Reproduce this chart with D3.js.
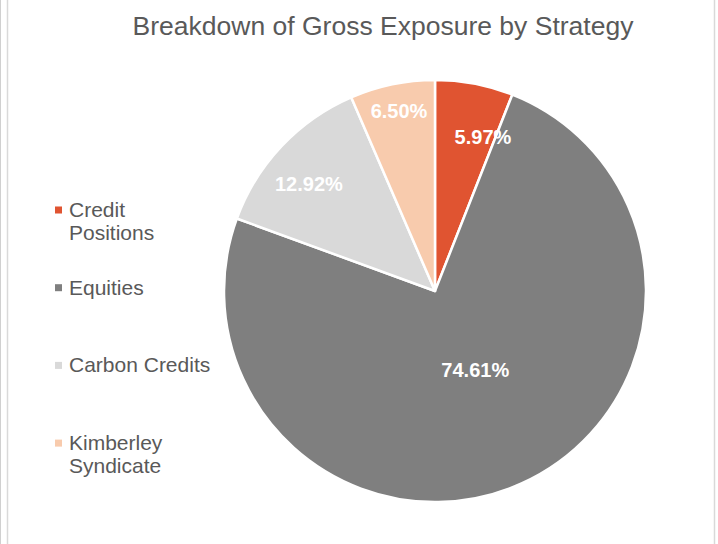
<!DOCTYPE html>
<html>
<head>
<meta charset="utf-8">
<script src="https://cdn.jsdelivr.net/npm/d3@7/dist/d3.min.js"></script>
<style>
  html, body { margin: 0; padding: 0; background: #fff; }
  svg { display: block; font-family: "Liberation Sans", Arial, sans-serif; }
</style>
</head>
<body>
<svg id="chart" width="718" height="544"></svg>
<script>
const title = "Breakdown of Gross Exposure by Strategy";
const categories = ["Credit Positions", "Equities", "Carbon Credits", "Kimberley Syndicate"];
const legendLines = [["Credit", "Positions"], ["Equities"], ["Carbon Credits"], ["Kimberley", "Syndicate"]];
const values = [5.97, 74.61, 12.92, 6.50];
const colors = ["#E05431", "#7F7F7F", "#D9D9D9", "#F8CBAD"];

const svg = d3.select("#chart");
const W = 718, H = 544;

// frame lines
svg.append("line").attr("x1", 0.5).attr("x2", 0.5).attr("y1", 0).attr("y2", H).attr("stroke", "#d0d0d0");
svg.append("line").attr("x1", 7.5).attr("x2", 7.5).attr("y1", 0).attr("y2", H).attr("stroke", "#d9d9d9").attr("stroke-width", 1.5);
svg.append("line").attr("x1", 714.5).attr("x2", 714.5).attr("y1", 0).attr("y2", H).attr("stroke", "#d9d9d9").attr("stroke-width", 1.5);

svg.append("text")
  .attr("x", 383).attr("y", 35)
  .attr("text-anchor", "middle")
  .attr("font-size", 26.5)
  .attr("fill", "#595959")
  .text(title);

const cx = 435, cy = 291, R = 211;
const color = d3.scaleOrdinal().domain(categories).range(colors);
const pie = d3.pie().sort(null).value(d => d.v);
const data = categories.map((c, i) => ({ c, v: values[i] }));
const arcs = pie(data);
const arc = d3.arc().innerRadius(0).outerRadius(R);

const g = svg.append("g").attr("transform", `translate(${cx},${cy})`);
g.selectAll("path").data(arcs).enter().append("path")
  .attr("d", arc)
  .attr("fill", d => color(d.data.c))
  .attr("stroke", "#fff")
  .attr("stroke-width", 2.5)
  .attr("stroke-linejoin", "round");

// label placement (best-fit style): fraction of radius, small angular nudge
const labelR = [0.765, 0.42, 0.783, 0.87];
const labelNudge = [0.114, -0.049, -0.054, 0.007];
g.selectAll("text.lbl").data(arcs).enter().append("text")
  .attr("class", "lbl")
  .attr("transform", (d, i) => {
    const a = (d.startAngle + d.endAngle) / 2 + labelNudge[i];
    const r = R * labelR[i];
    return `translate(${r * Math.sin(a)},${-r * Math.cos(a)})`;
  })
  .attr("text-anchor", "middle")
  .attr("dy", "0.35em")
  .attr("font-size", 20)
  .attr("font-weight", "bold")
  .attr("fill", "#fff")
  .text(d => d.data.v.toFixed(2) + "%");

// legend
const legend = svg.append("g");
const baseY = 217, step = 77.7, lineH = 23;
legendLines.forEach((lines, i) => {
  const y = baseY + i * step;
  legend.append("rect")
    .attr("x", 55).attr("y", y - 10.5)
    .attr("width", 7).attr("height", 7)
    .attr("fill", color(categories[i]));
  const t = legend.append("text")
    .attr("x", 69).attr("y", y)
    .attr("font-size", 21)
    .attr("fill", "#595959");
  lines.forEach((ln, j) => {
    t.append("tspan").attr("x", 69).attr("y", y + j * lineH).text(ln);
  });
});
</script>
</body>
</html>
